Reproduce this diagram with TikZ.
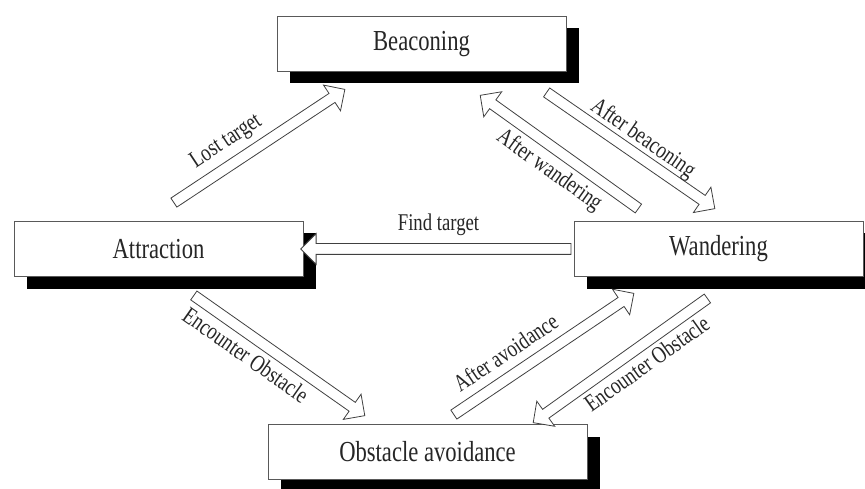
\documentclass[tikz,border=0pt]{standalone}
\usepackage{fontspec}
\setmainfont{Liberation Serif}
\usepackage{graphicx}
\usetikzlibrary{calc}
\usetikzlibrary{positioning}
\usetikzlibrary{shadows}
\usetikzlibrary{shapes.arrows}
\newcommand{\narrow}[1]{\scalebox{0.78}[1]{#1}}
\tikzset{state box/.style={
    draw=black!65, line width=0.8pt, fill=white,
    minimum width=289pt, minimum height=55pt,
    font=\fontsize{29}{30}\selectfont, text=black!85,
    drop shadow={shadow xshift=13pt, shadow yshift=-12pt, fill=black, opacity=1}
  },
  fat arrow/.style={
    single arrow, draw=black!75, line width=0.8pt, fill=white,
    inner xsep=0pt, inner ysep=5pt, text height=0pt, text depth=0pt,
    single arrow head extend=10pt, single arrow tip angle=90
  },
  arrow label/.style={
    inner sep=0pt, font=\fontsize{24}{25}\selectfont, text=black!85
  }
}
% from, to, pos, side, label
\newcommand{\fatarrow}[5]{%
  \path let \p1=#1, \p2=#2,
    \n1={atan2(\y2-\y1,\x2-\x1)}, \n2={veclen(\x2-\x1,\y2-\y1)} in
    ($(\p1)!0.5!(\p2)$) node[fat arrow, minimum height=\n2, rotate=\n1] {}
    (\p1) -- (\p2) node[arrow label, sloped, pos=#3, #4] {\narrow{#5}};
}

\begin{document}
\begin{tikzpicture}[x=1pt,y=-1pt]
  \useasboundingbox (0,0) rectangle (865,489);

  \node[state box] (B) at (421.5,44)  {\narrow{Beaconing}};
  \node[state box] (A) at (158.5,249) {\narrow{Attraction}};
  \node[state box] (W) at (718.5,249) {\narrow{Wandering}};
  \node[state box, minimum width=319pt] (O) at (427.5,452) {\narrow{Obstacle avoidance}};

  \fatarrow{([shift={(158,-17)}]A.north west)}{([shift={(66,19)}]B.south west)}{0.39}{above=11pt}{Lost target}
  \fatarrow{([shift={(67,-11)}]W.north west)}{([shift={(-84,25)}]B.south east)}{0.5}{below=10pt}{After wandering}
  \fatarrow{([shift={(-22,19)}]B.south east)}{([shift={(139,-14)}]W.north west)}{0.53}{above=5pt}{After beaconing}
  \fatarrow{(W.west)}{(A.east)}{0.5}{above=13pt}{Find target}
  \fatarrow{([shift={(178,17)}]A.south west)}{([shift={(95,-10)}]O.north west)}{0.38}{below=10pt}{Encounter Obstacle}
  \fatarrow{([shift={(184,-8)}]O.north west)}{([shift={(58,18)}]W.south west)}{0.37}{above=14pt}{After avoidance}
  \fatarrow{([shift={(136,20)}]W.south west)}{([shift={(-52,-3)}]O.north east)}{0.42}{below=9pt}{Encounter Obstacle}
\end{tikzpicture}
\end{document}
